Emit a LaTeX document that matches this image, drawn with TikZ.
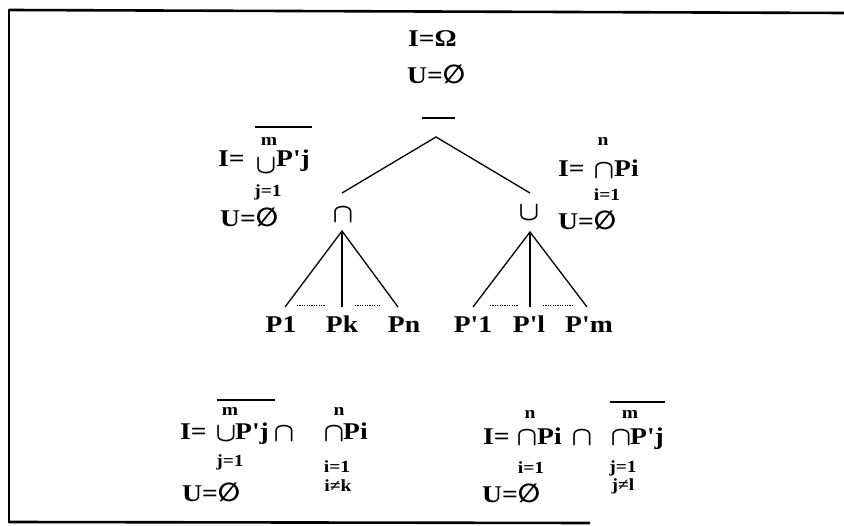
\documentclass[tikz,border=0pt]{standalone}
\usepackage{fontspec}
\usepackage{graphicx}
\setmainfont{Liberation Serif}[FakeStretch=1.15,Ligatures=TeXOff]
\newfontfamily\symf{DejaVu Sans}
\tikzset{
  mt/.style={font=\fontsize{24}{24}\selectfont\bfseries, inner sep=0pt, anchor=base west},
  lab/.style={font=\fontsize{24}{24}\selectfont\bfseries, inner sep=0pt, anchor=base},
  st/.style={font=\fontsize{17}{17}\selectfont\bfseries, inner sep=0pt},
  opn/.style={inner sep=0pt},
  edge/.style={line width=1.3pt},
  dots/.style={line width=0.8pt, dash pattern=on 1.2pt off 1.2pt},
  frame/.style={line width=2.6pt},
  bar/.style={line width=1.2pt}
}
\newcommand{\emp}{{\fontsize{26}{26}\selectfont\symf\bfseries ∅}}
\newcommand{\ap}{'}
\newcommand{\bigcapsym}{\scalebox{2.7}{\fontsize{10}{10}\selectfont\boldmath$\cap$}}
\newcommand{\bigcupsym}{\scalebox{2.7}{\fontsize{10}{10}\selectfont\boldmath$\cup$}}
\begin{document}
\begin{tikzpicture}[x=1pt,y=-1pt]
\useasboundingbox (0,0) rectangle (844,526);
% frame
\draw[frame] (9,10) -- (844,13);
\draw[frame] (9,9) -- (9,523);
\draw[frame] (9,522) -- (590,523);

% top
\node[mt] (topI) at (408,47) {I=Ω};
\node[mt] (topU) at (407,84) {U=\emp};
\coordinate (barL) at (422,118);
\coordinate (barR) at (455,118);
\draw[bar] (barL) -- (barR);
\coordinate (apex) at (436,137);
\coordinate (lt) at (342,193);
\coordinate (rt) at (530,193);
\draw[edge] (lt) -- (apex) -- (rt);

\node[opn] (capL) at (343,215) {\bigcapsym};
\node[opn] (cupR) at (529,213) {\bigcupsym};

% left tree
\coordinate (la) at (342,231);
\coordinate (l1) at (285,307);
\coordinate (l2) at (342,307);
\coordinate (l3) at (398,307);
\draw[edge] (l1) -- (la) -- (l3);
\draw[edge] (la) -- (l2);
\coordinate (ld1a) at (297,305); \coordinate (ld1b) at (325,305);
\coordinate (ld2a) at (355,305); \coordinate (ld2b) at (381,305);
\draw[dots] (ld1a) -- (ld1b);
\draw[dots] (ld2a) -- (ld2b);

% right tree
\coordinate (ra) at (530,232);
\coordinate (r1) at (473,307);
\coordinate (r2) at (530,307);
\coordinate (r3) at (587,307);
\draw[edge] (r1) -- (ra) -- (r3);
\draw[edge] (ra) -- (r2);
\coordinate (rd1a) at (490,305); \coordinate (rd1b) at (518,305);
\coordinate (rd2a) at (543,305); \coordinate (rd2b) at (572,305);
\draw[dots] (rd1a) -- (rd1b);
\draw[dots] (rd2a) -- (rd2b);

% leaves
\node[lab] (P1) at (281,333) {P1};
\node[lab] (Pk) at (342,333) {Pk};
\node[lab] (Pn) at (404,333) {Pn};
\node[lab] (Pp1) at (473,333) {P\ap 1};
\node[lab] (Ppl) at (529,333) {P\ap l};
\node[lab] (Ppm) at (589,333) {P\ap m};

% left label
\node[mt] (aI) at (218,167) {I=};
\node[opn] (aU) at (266,166) {\bigcupsym};
\node[mt] (aP) at (276,167) {P\ap j};
\node[st] (am) at (269,141) {m};
\node[st] (aj) at (268,192) {j=1};
\draw[bar] (255,127) -- (312,127);
\node[mt] (aUe) at (220,227) {U=\emp};

% right label
\node[mt] (bI) at (558,177) {I=};
\node[opn] (bC) at (604,171) {\bigcapsym};
\node[mt] (bP) at (614,177) {Pi};
\node[st] (bn) at (603,141) {n};
\node[st] (bi) at (607,195) {i=1};
\node[mt] (bUe) at (558,230) {U=\emp};

% bottom left
\node[mt] (cI) at (180,440) {I=};
\node[opn] (cU) at (226,434) {\bigcupsym};
\node[mt] (cP) at (235,440) {P\ap j};
\node[opn] (cC1) at (284,434) {\bigcapsym};
\node[opn] (cC2) at (334,434) {\bigcapsym};
\node[mt] (cPi) at (343,440) {Pi};
\node[st] (cm) at (230,411) {m};
\draw[bar] (217,400) -- (275,400);
\node[st] (cj) at (230,462) {j=1};
\node[st] (cn) at (339,411) {n};
\node[st] (ci) at (337,467) {i=1};
\node[st] (ck) at (338,486) {i≠k};
\node[mt] (cUe) at (182,502) {U=\emp};

% bottom right
\node[mt] (dI) at (483,445) {I=};
\node[opn] (dC1) at (527,438) {\bigcapsym};
\node[mt] (dPi) at (537,445) {Pi};
\node[opn] (dC2) at (582,438) {\bigcapsym};
\node[opn] (dC3) at (621,438) {\bigcapsym};
\node[mt] (dP) at (630,445) {P\ap j};
\node[st] (dn) at (530,414) {n};
\node[st] (dm) at (630,414) {m};
\draw[bar] (610,402) -- (665,402);
\node[st] (di) at (531,468) {i=1};
\node[st] (dj) at (623,468) {j=1};
\node[st] (dl) at (623,486) {j≠l};
\node[mt] (dUe) at (482,503) {U=\emp};
\end{tikzpicture}
\end{document}
